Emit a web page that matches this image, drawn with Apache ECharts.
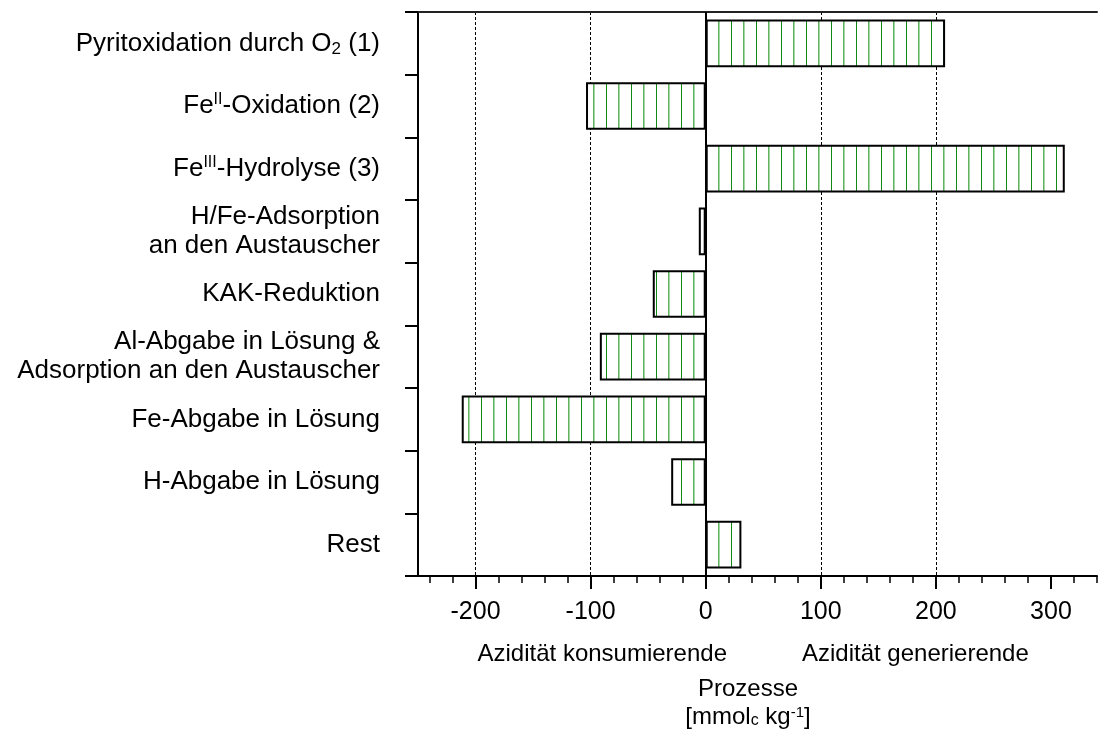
<!DOCTYPE html>
<html><head><meta charset="utf-8">
<script src="https://cdn.jsdelivr.net/npm/echarts@6/dist/echarts.min.js"></script>
<style>html,body{margin:0;padding:0;background:#fff}#c{width:1098px;height:731px}</style>
</head><body><div id="c"></div>
<script>
const categories = [
  'Pyritoxidation durch O{sub|2} (1)',
  'Fe{sup|II}-Oxidation (2)',
  'Fe{sup|III}-Hydrolyse (3)',
  'H/Fe-Adsorption\nan den Austauscher',
  'KAK-Reduktion',
  'Al-Abgabe in Lösung &\nAdsorption an den Austauscher',
  'Fe-Abgabe in Lösung',
  'H-Abgabe in Lösung',
  'Rest'
];
const values = [208, -104, 312, -6, -46, -92, -212, -30, 31];
const majorTicks = [-200, -100, 0, 100, 200, 300];
const minorTicks = [-240, -220, -180, -160, -140, -120, -80, -60, -40, -20, 20, 40, 60, 80, 120, 140, 160, 180, 220, 240, 260, 280, 320, 340];
const axisMin = -250, axisMax = 340;
const leftTitle = 'Azidität konsumierende';
const rightTitle = 'Azidität generierende';
const titleLine1 = 'Prozesse';
const titleLine2 = '[mmol{sub|c} kg{sup|-1}]';

const FONT = "'Liberation Sans', Arial, sans-serif";

// hatch pattern: vertical green lines
const pc = document.createElement('canvas');
pc.width = 25; pc.height = 10;
const g = pc.getContext('2d');
g.fillStyle = '#fff'; g.fillRect(0, 0, 25, 10);
g.fillStyle = '#138a13'; g.fillRect(6, 0, 1, 10);
g.fillStyle = '#5fb35f'; g.fillRect(18, 0, 1, 10);
g.fillStyle = '#a6d6a6'; g.fillRect(19, 0, 1, 10);

const chart = echarts.init(document.getElementById('c'), null, {renderer: 'canvas'});
const gridRect = {left: 418, right: 1, top: 12, bottom: 155};
chart.setOption({
  animation: false,
  backgroundColor: '#fff',
  grid: [Object.assign({}, gridRect), Object.assign({}, gridRect)],
  xAxis: [
    {
      type: 'value', gridIndex: 0, position: 'bottom', min: axisMin, max: axisMax,
      axisLine: {show: true, onZero: false, lineStyle: {color: '#000', width: 2}},
      axisTick: {show: true, customValues: majorTicks, length: 13, lineStyle: {color: '#000', width: 2}},
      axisLabel: {customValues: majorTicks, fontSize: 25, color: '#000', fontFamily: FONT, margin: 24},
      splitLine: {show: true, showMinLine: true, showMaxLine: false, lineStyle: {color: '#000', type: [3, 2], width: 1}}
    },
    {
      type: 'value', gridIndex: 0, position: 'top', min: axisMin, max: axisMax,
      axisLine: {show: true, onZero: false, lineStyle: {color: '#222', width: 2}},
      axisTick: {show: false}, axisLabel: {show: false}, splitLine: {show: false}
    },
    {
      type: 'value', gridIndex: 1, position: 'bottom', min: axisMin, max: axisMax,
      axisLine: {show: false},
      axisTick: {show: true, customValues: minorTicks, length: 7, lineStyle: {color: '#000', width: 1.5}},
      axisLabel: {show: false}, splitLine: {show: false}
    }
  ],
  yAxis: [
    {
      type: 'category', gridIndex: 0, data: categories, inverse: true,
      axisLine: {show: true, onZero: false, lineStyle: {color: '#000', width: 2}},
      axisTick: {show: true, length: 13, lineStyle: {color: '#000', width: 2}},
      axisLabel: {
        fontSize: 26, lineHeight: 29, color: '#000', fontFamily: FONT, margin: 38, align: 'right',
        rich: {
          sub: {fontSize: 17, lineHeight: 17, verticalAlign: 'bottom', fontFamily: FONT, color: '#000'},
          sup: {fontSize: 16, lineHeight: 16, verticalAlign: 'top', fontFamily: FONT, color: '#000'}
        }
      },
      splitLine: {show: false}
    },
    {type: 'value', gridIndex: 1, show: false}
  ],
  series: [{
    type: 'bar', xAxisIndex: 0, yAxisIndex: 0, data: values, barCategoryGap: '24%',
    itemStyle: {color: {image: pc, repeat: 'repeat'}, borderColor: '#000', borderWidth: 2},
    markLine: {
      silent: true, symbol: 'none', label: {show: false},
      lineStyle: {color: '#000', width: 2, type: 'solid'},
      data: [{xAxis: 0}]
    }
  }],
  graphic: [
    {type: 'text', x: 727, y: 654, style: {text: leftTitle, font: '24px ' + FONT, fill: '#000', align: 'right', verticalAlign: 'middle'}},
    {type: 'text', x: 802, y: 654, style: {text: rightTitle, font: '24px ' + FONT, fill: '#000', align: 'left', verticalAlign: 'middle'}},
    {type: 'text', x: 748, y: 689, style: {text: titleLine1, font: '24px ' + FONT, fill: '#000', align: 'center', verticalAlign: 'middle'}},
    {type: 'text', x: 748, y: 717, style: {
      text: titleLine2, fontSize: 24, fontFamily: FONT, fill: '#000', align: 'center', verticalAlign: 'middle',
      rich: {
        sub: {fontSize: 16, lineHeight: 16, verticalAlign: 'bottom', fontFamily: FONT, fill: '#000'},
        sup: {fontSize: 15, lineHeight: 15, verticalAlign: 'top', fontFamily: FONT, fill: '#000'}
      }
    }}
  ]
});
</script>
</body></html>
